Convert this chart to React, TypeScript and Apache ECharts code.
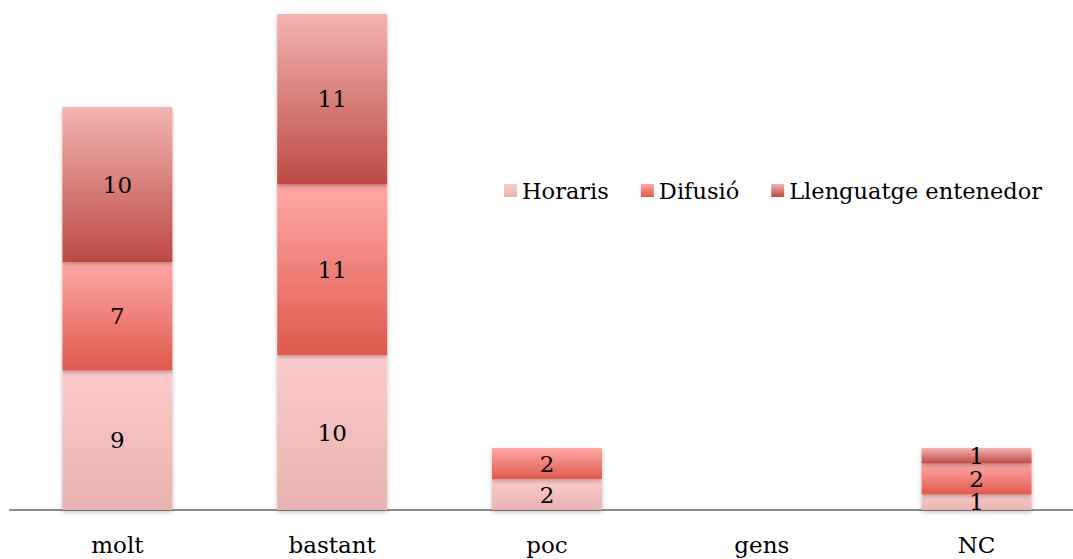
import React, { useEffect, useRef } from "react";
import * as echarts from "echarts";

const categories = ["molt", "bastant", "poc", "gens", "NC"];
const horaris = [9, 10, 2, 0, 1];
const difusio = [7, 11, 2, 0, 2];
const llenguatge = [10, 11, 0, 0, 1];
const seriesNames = ["Horaris", "Difusió", "Llenguatge entenedor"];
const gradients = [
  ["#fccbcb", "#e8b3b0"],
  ["#ffa9a6", "#df594d"],
  ["#f3b4b2", "#bd4943"],
];

const FONT = "DejaVu Serif";

export default function App() {
  const ref = useRef<HTMLDivElement>(null);
  useEffect(() => {
    const chart = echarts.init(ref.current!, null, { renderer: "svg" });
    const grad = (c: string[]) =>
      new echarts.graphic.LinearGradient(0, 0, 0, 1, [
        { offset: 0, color: c[0] },
        { offset: 1, color: c[1] },
      ]);
    const mk = (name: string, data: number[], i: number) => ({
      name,
      type: "bar",
      stack: "total",
      data,
      barWidth: 110,
      itemStyle: {
        color: grad(gradients[i]),
        shadowColor: "rgba(0,0,0,0.25)",
        shadowBlur: 4,
        shadowOffsetY: 2,
      },
      label: {
        show: true,
        position: "inside",
        color: "#000",
        fontFamily: FONT,
        fontSize: 23,
        lineHeight: 15,
        formatter: (p: any) => (p.value ? String(p.value) : ""),
      },
    });
    chart.setOption({
      animation: false,
      textStyle: { fontFamily: FONT },
      legend: {
        left: 499,
        top: 174,
        itemWidth: 13,
        itemHeight: 13,
        itemGap: 32,
        icon: "rect",
        textStyle: { fontFamily: FONT, fontSize: 22.5, color: "#000" },
        data: seriesNames,
      },
      grid: { left: 10, top: 14, width: 1074, height: 496, containLabel: false },
      xAxis: {
        type: "category",
        data: categories,
        axisLine: { lineStyle: { color: "#8c8c8c", width: 2 } },
        axisTick: { show: false },
        axisLabel: { fontFamily: FONT, fontSize: 23, color: "#000", margin: 23 },
      },
      yAxis: {
        type: "value",
        min: 0,
        max: 32,
        show: false,
        splitLine: { show: false },
      },
      series: [
        mk(seriesNames[0], horaris, 0),
        mk(seriesNames[1], difusio, 1),
        mk(seriesNames[2], llenguatge, 2),
      ],
    });
    return () => chart.dispose();
  }, []);
  return (
    <div
      style={{ position: "absolute", left: 0, top: 0, width: 1073, height: 559, overflow: "hidden", background: "#fff" }}
    >
      <div ref={ref} style={{ width: 1100, height: 559 }} />
    </div>
  );
}
